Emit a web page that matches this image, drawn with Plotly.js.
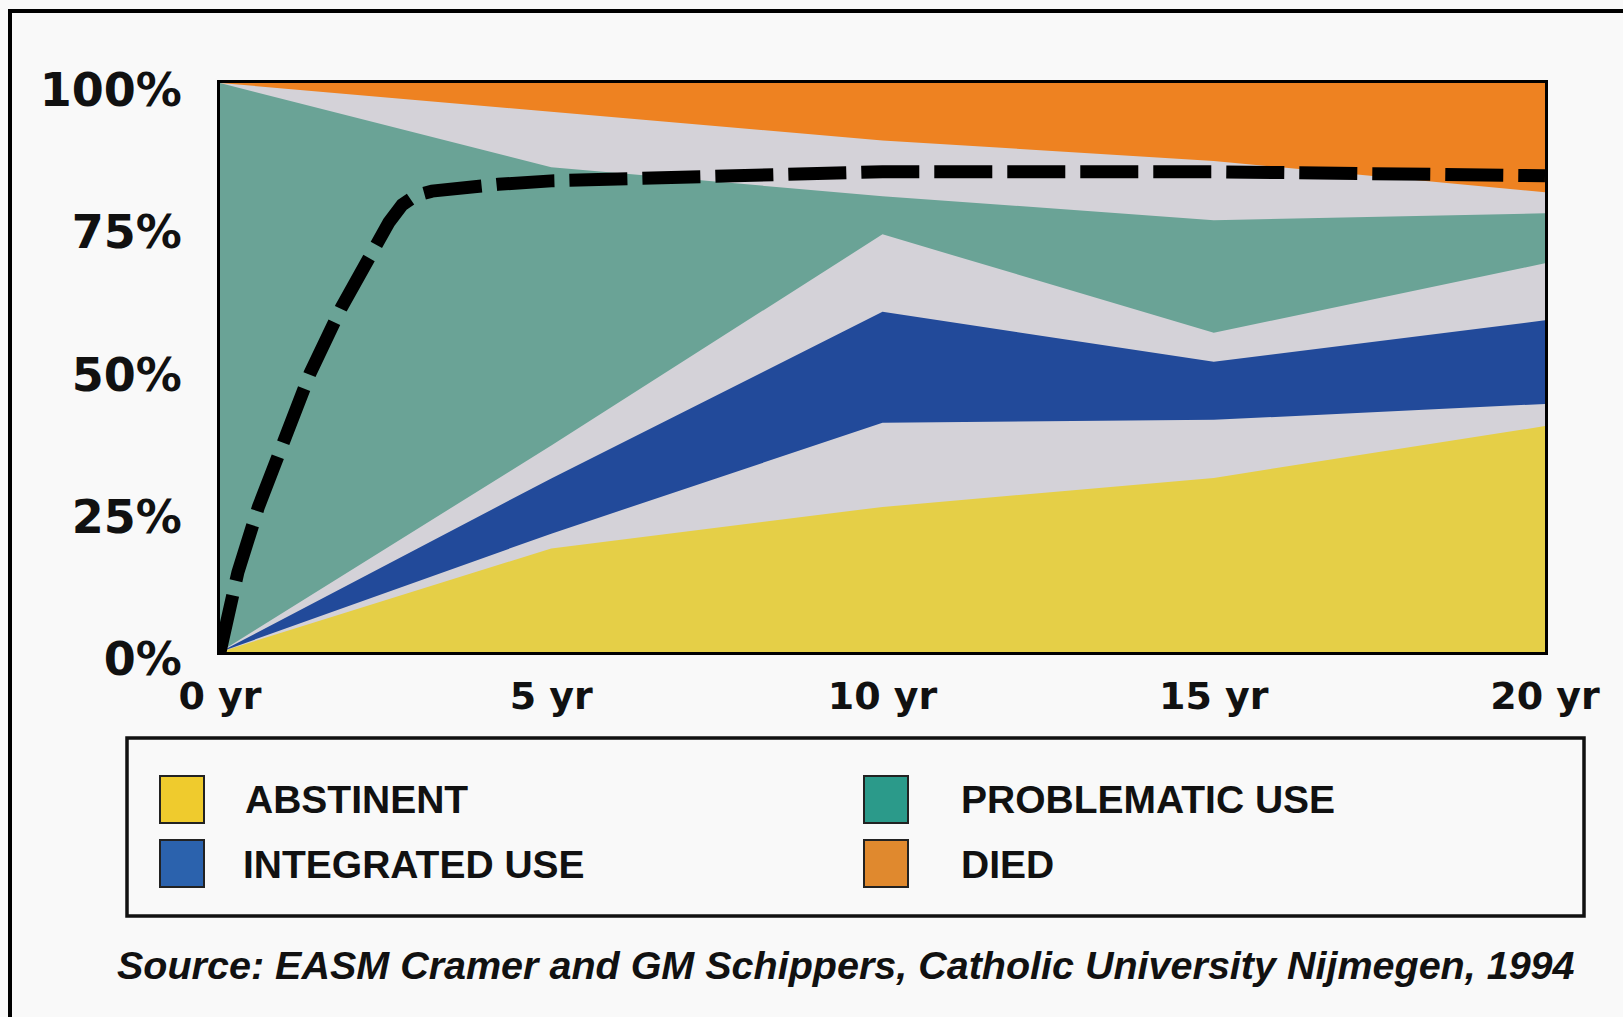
<!DOCTYPE html>
<html>
<head>
<meta charset="utf-8">
<script src="https://cdn.plot.ly/plotly-3.0.1.min.js"></script>
<style>
html,body{margin:0;padding:0;background:#f9f9f9;}
#chart{width:1623px;height:1017px;}
</style>
</head>
<body>
<div id="chart"></div>
<script>
// ---- data (percent of cohort) ----
const years = [0, 5, 10, 15, 20];
const yearLabels = ['0 yr', '5 yr', '10 yr', '15 yr', '20 yr'];
const abstinentTop   = [0, 18.2, 25.5, 30.6, 39.7];
const integratedLow  = [0, 20.8, 40.3, 40.8, 43.6];
const integratedHigh = [0, 30.5, 59.8, 51.0, 58.3];
const problemLow     = [0, 36.3, 73.4, 56.1, 68.3];
const problemHigh    = [100, 85.2, 80.1, 75.9, 77.1];
const diedLow        = [100, 95.0, 89.9, 86.3, 80.8];
const total          = [100, 100, 100, 100, 100];

const dashYears = [0, 0.1, 0.27, 0.58, 0.97, 1.36, 1.83, 2.3, 2.55, 2.75, 2.95, 3.2, 3.6, 4.2, 5, 7, 9, 10, 15, 20];
const dashPct   = [0, 5.5, 14, 25.5, 38, 49, 60.5, 70.5, 75.5, 78.6, 80.2, 81.0, 81.6, 82.2, 82.8, 83.6, 84.2, 84.4, 84.4, 83.7];

const yTicks = [0, 25, 50, 75, 100];
const yTickLabels = ['0%', '25%', '50%', '75%', '100%'];

const legendNames  = ['ABSTINENT', 'INTEGRATED USE', 'PROBLEMATIC USE', 'DIED'];
const legendColors = ['#efcb2d', '#2b62ad', '#2b9a8a', '#e0892e'];
const sourceText = 'Source: EASM Cramer and GM Schippers, Catholic University Nijmegen, 1994';

// ---- styles ----
const C = {yellow:'#e5cf47', blue:'#224a9a', green:'#6aa396', orange:'#ee8221', gray:'#d4d2d8'};

function band(y, fill, color){
  return {x: years, y: y, type:'scatter', mode:'lines', line:{width:0, color: color || 'rgba(0,0,0,0)'},
          fill: fill, fillcolor: color, showlegend:false, hoverinfo:'skip'};
}
const traces = [
  band(abstinentTop, 'tozeroy', C.yellow),
  band(integratedLow, 'none'),
  band(integratedHigh, 'tonexty', C.blue),
  band(problemLow, 'none'),
  band(problemHigh, 'tonexty', C.green),
  band(diedLow, 'none'),
  band(total, 'tonexty', C.orange),
  {x: dashYears, y: dashPct, type:'scatter', mode:'lines', showlegend:false, hoverinfo:'skip',
   line:{color:'#000', width:13, dash:'58px,15px', shape:'linear'}}
];

// geometry helpers (pixel -> paper)
const L = 220, R = 1545, T = 83, B = 652;
const px = v => (v - L) / (R - L);
const py = v => (B - v) / (B - T);

const shapes = [
  // outer frame
  {type:'rect', xref:'paper', yref:'paper', x0:px(10), x1:px(1660), y0:py(1060), y1:py(11),
   line:{color:'#000', width:4}, fillcolor:'rgba(0,0,0,0)', layer:'below'},
  // legend box
  {type:'rect', xref:'paper', yref:'paper', x0:px(127), x1:px(1584), y0:py(916), y1:py(738),
   line:{color:'#111', width:3.5}, fillcolor:'rgba(0,0,0,0)'}
];
const annotations = [];
const swX = [160, 160, 864, 864];
const swY = [776, 840, 776, 840];
const txX = [243, 241, 959, 959];
legendNames.forEach((name, i) => {
  shapes.push({type:'rect', xref:'paper', yref:'paper', x0:px(swX[i]), x1:px(swX[i] + 44),
               y0:py(swY[i] + 47), y1:py(swY[i]), fillcolor: legendColors[i], line:{color:'#222', width:2}});
  annotations.push({xref:'paper', yref:'paper', x:px(txX[i]), y:py(swY[i] + 24), xanchor:'left', yanchor:'middle',
                    text:name, showarrow:false,
                    font:{family:'Liberation Sans, Arial, sans-serif', size:39, color:'#111', weight:'bold'}});
});
annotations.push({xref:'paper', yref:'paper', x:px(846), y:py(965), xanchor:'center', yanchor:'middle',
                  text:'<i>' + sourceText + '</i>', showarrow:false,
                  font:{family:'Liberation Sans, Arial, sans-serif', size:39.5, color:'#111', weight:'bold'}});

const layout = {
  width:1623, height:1017,
  margin:{l:L, r:1623 - R, t:T, b:1017 - B},
  paper_bgcolor:'#f9f9f9', plot_bgcolor:C.gray,
  showlegend:false,
  xaxis:{range:[0,20], tickvals:years, ticktext:yearLabels, showgrid:false, zeroline:false,
         showline:true, mirror:true, linecolor:'#000', linewidth:3, ticks:'', ticklabelstandoff:8,
         tickfont:{family:'DejaVu Sans, Verdana, sans-serif', size:38, color:'#111', weight:'bold'}, fixedrange:true},
  yaxis:{range:[0,100], tickvals:yTicks, ticktext:yTickLabels, showgrid:false, zeroline:false,
         showline:true, mirror:true, linecolor:'#000', linewidth:3, ticks:'', ticklabelstandoff:26,
         ticklabelshift:7,
         tickfont:{family:'DejaVu Sans, Verdana, sans-serif', size:46, color:'#111', weight:'bold'}, fixedrange:true},
  shapes:shapes,
  annotations:annotations
};

Plotly.newPlot('chart', traces, layout, {displayModeBar:false, staticPlot:true});
</script>
</body>
</html>
